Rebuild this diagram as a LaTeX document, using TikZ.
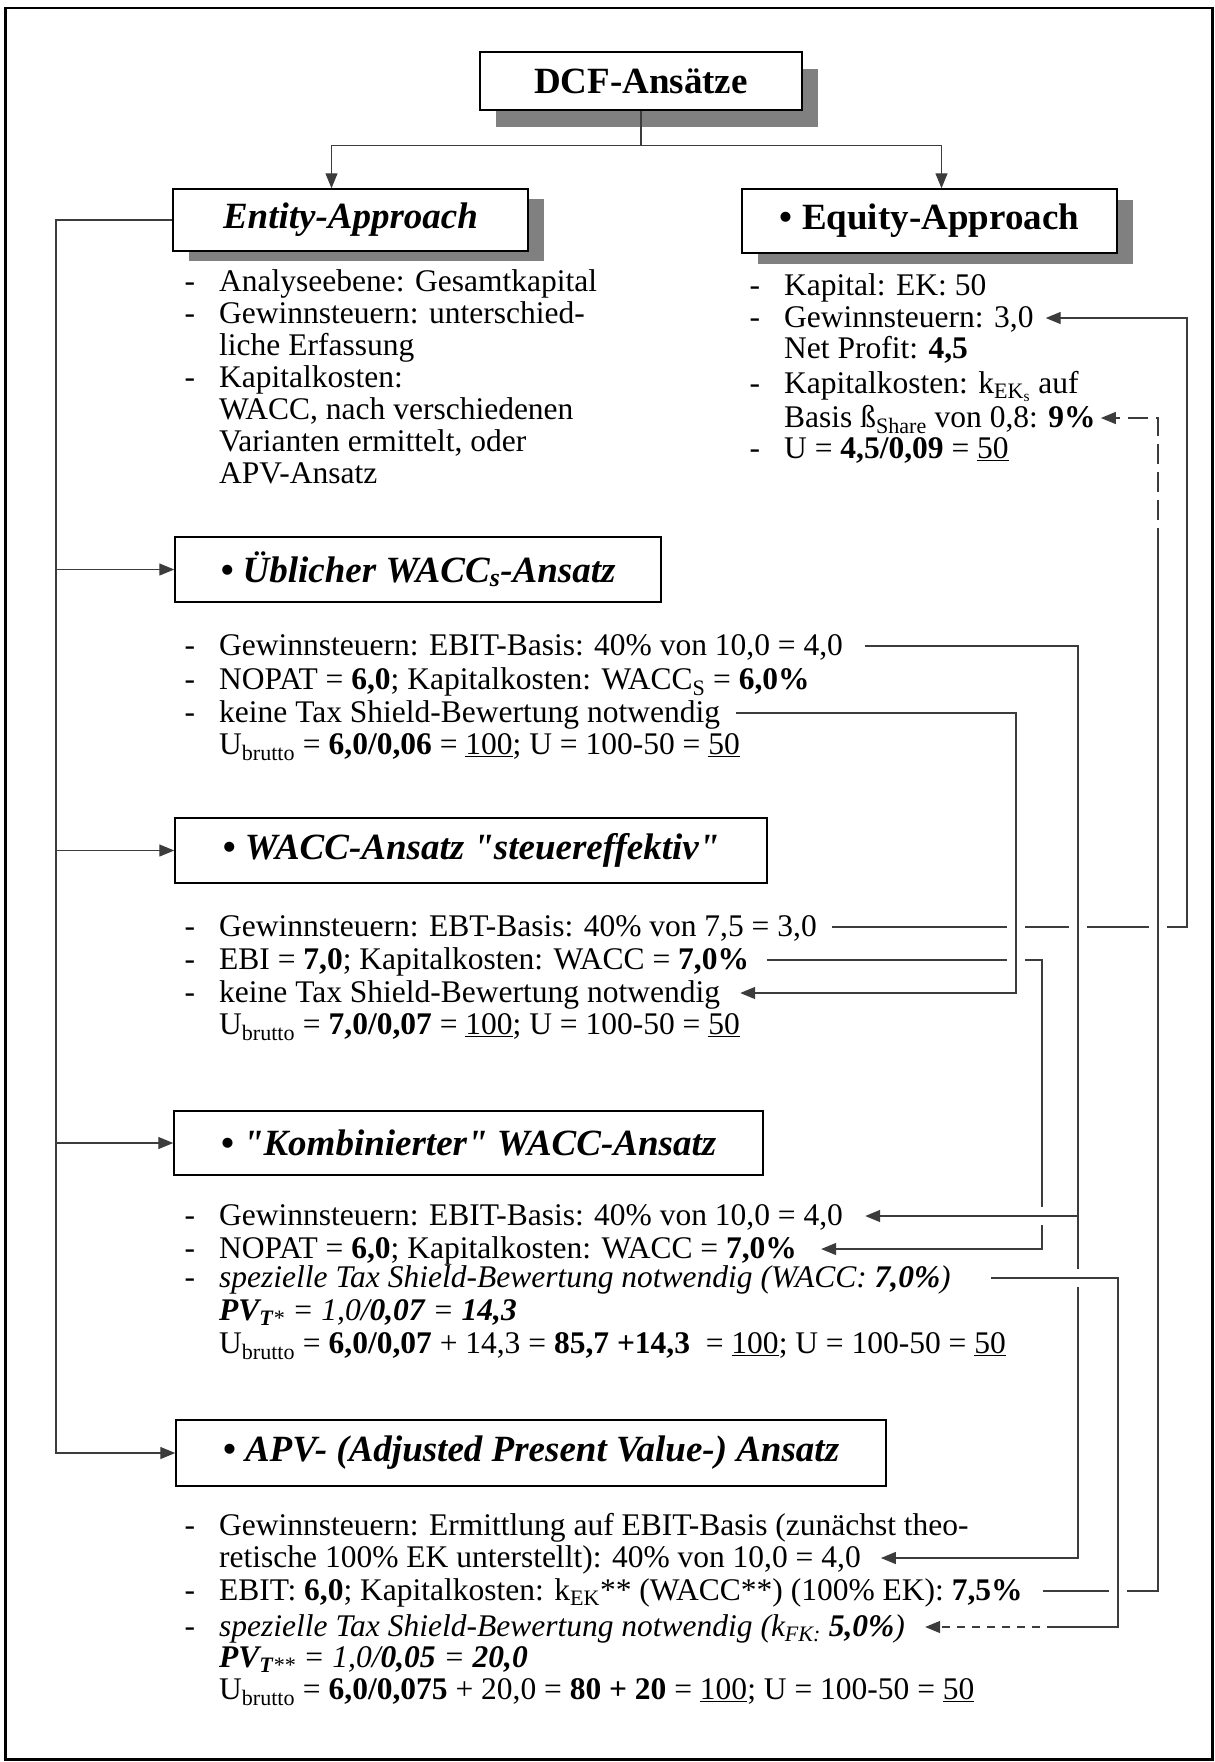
\documentclass[tikz,border=0pt]{standalone}
\usepackage{fontspec}
\setmainfont{Liberation Serif}
\usetikzlibrary{arrows.meta,shadows}

\definecolor{shadowgray}{RGB}{128,128,128}
\definecolor{linegray}{RGB}{60,60,60}

\newcommand{\itemdash}{\llap{-\hspace{24pt}}}
\newcommand{\qd}{\textquotedbl}

\tikzset{
	conn/.style={draw=linegray, line width=1.4pt},
	arr/.style={conn, -{Triangle[length=15pt,width=12pt]}},
	hop/.style={preaction={draw=white, line width=18pt, -}},
	headbox/.style={draw, line width=1.5pt, fill=white, inner sep=0pt, font=\fontsize{37}{40}\selectfont\bfseries},
	shadowbox/.style={headbox, drop shadow={shadow xshift=16pt, shadow yshift=-#1, fill=shadowgray, opacity=1}},
	txt/.style={anchor=base west, inner sep=0pt, text height=24pt, text depth=6pt, font=\fontsize{31.5}{32}\selectfont},
}

\begin{document}
\begin{tikzpicture}[x=1pt, y=-1pt]
	\useasboundingbox (0,0) rectangle (1215,1762);
	\draw[line width=2.5pt] (5.5,8) rectangle (1212.5,1759.5);
	
	% Kopf
	\node[shadowbox=17pt, minimum width=322pt, minimum height=58pt] (dcf) at (641,81) {DCF-Ansätze};
	\node[shadowbox=10pt, minimum width=355pt, minimum height=62pt] (entity) at (350.5,220) {\itshape Entity-Approach};
	\node[shadowbox=11pt, minimum width=375pt, minimum height=64pt] (equity) at (929.5,221) {• Equity-Approach};
	
	% Entity
	\node[txt] (en1) at (219,291) {\itemdash Analyseebene: Gesamtkapital};
	\node[txt] (en2) at (219,323) {\itemdash Gewinnsteuern: unterschied-};
	\node[txt] (en3) at (219,355) {liche Erfassung};
	\node[txt] (en4) at (219,387) {\itemdash Kapitalkosten:};
	\node[txt] (en5) at (219,419) {WACC, nach verschiedenen};
	\node[txt] (en6) at (219,451) {Varianten ermittelt, oder};
	\node[txt] (en7) at (219,483) {APV-Ansatz};
	
	% Equity
	\node[txt] (eq1) at (784,295) {\itemdash Kapital: EK: 50};
	\node[txt] (eq2) at (784,327) {\itemdash Gewinnsteuern: 3,0};
	\node[txt] (eq3) at (784,358) {Net Profit: \textbf{4,5}};
	\node[txt] (eq4) at (784,393) {\itemdash Kapitalkosten: k\textsubscript{EK\textsubscript{s}} auf};
	\node[txt] (eq5) at (784,427) {Basis ß\textsubscript{Share} von 0,8: \textbf{9\%}};
	\node[txt] (eq6) at (784,458) {\itemdash U = \textbf{4,5/0,09} = \underline{50}};
	
	% Ueblicher WACCs-Ansatz
	\node[headbox, minimum width=486pt, minimum height=65pt] (usbox) at (418,569.5) {\itshape • Üblicher WACC\textsubscript{s}-Ansatz};
	\node[txt] (us1) at (219,655) {\itemdash Gewinnsteuern: EBIT-Basis: 40\% von 10,0 = 4,0};
	\node[txt] (us2) at (219,689) {\itemdash NOPAT = \textbf{6,0}; Kapitalkosten: WACC\textsubscript{S} = \textbf{6,0\%}};
	\node[txt] (us3) at (219,722) {\itemdash keine Tax Shield-Bewertung notwendig};
	\node[txt] (us4) at (219,754) {U\textsubscript{brutto} = \textbf{6,0/0,06} = \underline{100}; U = 100-50 = \underline{50}};
	
	% steuereffektiv
	\node[headbox, minimum width=592pt, minimum height=65pt] (sebox) at (471,850.5) {\itshape • WACC-Ansatz \qd steuereffektiv\qd};
	\node[txt] (se1) at (219,936) {\itemdash Gewinnsteuern: EBT-Basis: 40\% von 7,5 = 3,0};
	\node[txt] (se2) at (219,969) {\itemdash EBI = \textbf{7,0}; Kapitalkosten: WACC = \textbf{7,0\%}};
	\node[txt] (se3) at (219,1002) {\itemdash keine Tax Shield-Bewertung notwendig};
	\node[txt] (se4) at (219,1034) {U\textsubscript{brutto} = \textbf{7,0/0,07} = \underline{100}; U = 100-50 = \underline{50}};
	
	% kombiniert
	\node[headbox, minimum width=589pt, minimum height=64pt] (kobox) at (468.5,1143) {\itshape • \qd Kombinierter\qd\ WACC-Ansatz};
	\node[txt] (ko1) at (219,1225) {\itemdash Gewinnsteuern: EBIT-Basis: 40\% von 10,0 = 4,0};
	\node[txt] (ko2) at (219,1258) {\itemdash NOPAT = \textbf{6,0}; Kapitalkosten: WACC = \textbf{7,0\%}};
	\node[txt] (ko3) at (219,1287) {\itemdash \textit{spezielle Tax Shield-Bewertung notwendig (WACC: \textbf{7,0\%})}};
	\node[txt] (ko4) at (219,1320) {\itshape\textbf{PV}\textsubscript{\textbf{T}*} = 1,0/\textbf{0,07} = \textbf{14,3}};
	\node[txt] (ko5) at (219,1353) {U\textsubscript{brutto} = \textbf{6,0/0,07} + 14,3 = \textbf{85,7 +14,3}\ \ = \underline{100}; U = 100-50 = \underline{50}};
	
	% APV
	\node[headbox, minimum width=710pt, minimum height=66pt] (apbox) at (531,1453) {\itshape • APV- (Adjusted Present Value-) Ansatz};
	\node[txt] (ap1) at (219,1535) {\itemdash Gewinnsteuern: Ermittlung auf EBIT-Basis (zunächst theo-};
	\node[txt] (ap2) at (219,1567) {retische 100\% EK unterstellt): 40\% von 10,0 = 4,0};
	\node[txt] (ap3) at (219,1600) {\itemdash EBIT: \textbf{6,0}; Kapitalkosten: k\textsubscript{EK}** (WACC**) (100\% EK): \textbf{7,5\%}};
	\node[txt] (ap4) at (219,1636) {\itemdash \textit{spezielle Tax Shield-Bewertung notwendig (k\textsubscript{FK:} \textbf{5,0\%})}};
	\node[txt] (ap5) at (219,1667) {\itshape\textbf{PV}\textsubscript{\textbf{T}**} = 1,0/\textbf{0,05} = \textbf{20,0}};
	\node[txt] (ap6) at (219,1699) {U\textsubscript{brutto} = \textbf{6,0/0,075} + 20,0 = \textbf{80 + 20} = \underline{100}; U = 100-50 = \underline{50}};
	
	% Verbindungen oben
	\draw[conn] (dcf.south) -- ++(0,35) coordinate (fork);
	\draw[arr] (fork) -| ([xshift=-19pt]entity.north);
	\draw[arr] (fork) -| ([xshift=12pt]equity.north);
	
	% linke Leiste
	\coordinate (spine) at (56,0);
	\draw[arr] (entity.west) -| (spine |- apbox.west) -- (apbox.west);
	\foreach \b in {usbox,sebox,kobox}
		\draw[arr] (spine |- \b.west) -- (\b.west);
	
	% rechte Verbindungen
	\coordinate (xB) at (1016,0);
	\coordinate (xD) at (1042,0);
	\coordinate (xA) at (1078,0);
	\coordinate (xE) at (1118,0);
	\coordinate (xC) at (1187,0);
	\coordinate (fdash) at (1158,528);
	\coordinate (edash) at (1047,0);
	
	\draw[arr,hop] ([xshift=15pt]se1.east) -| (xC |- eq2.east) -- ([xshift=12pt]eq2.east);
	\draw[arr,hop] ([xshift=18pt]se2.east) -| (xD |- ko2.east) -- ([xshift=24pt]ko2.east);
	\draw[arr,hop] ([xshift=16pt]us3.east) -| (xB |- se3.east) -- ([xshift=20pt]se3.east);
	\draw[arr,hop] ([xshift=22pt]us1.east) -| (xA |- ap2.east) -- ([xshift=20pt]ap2.east);
	\draw[arr,hop] ([xshift=-1pt]xA |- ko1.east) -- ([xshift=22pt]ko1.east);
	\draw[conn,hop] ([xshift=20pt]ap3.east) -| (fdash);
	\draw[arr, dash pattern=on 20pt off 8pt, dash phase=20pt] (fdash) |- ([xshift=5pt]eq5.east);
	\draw[conn,hop] ([xshift=40pt]ko3.east) -| (xE |- ap4.east) -- (edash |- ap4.east);
	\draw[arr, dash pattern=on 8pt off 7pt, dash phase=8pt] (edash |- ap4.east) -- ([xshift=20pt]ap4.east);
\end{tikzpicture}
\end{document}
